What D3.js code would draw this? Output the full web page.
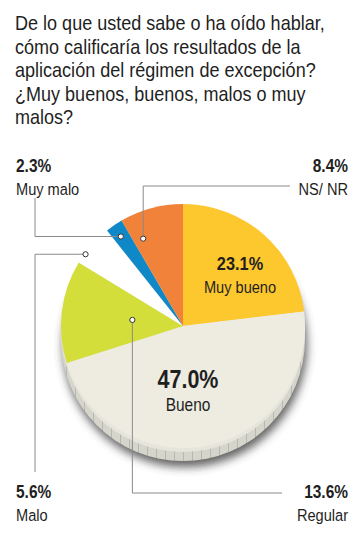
<!DOCTYPE html>
<html>
<head>
<meta charset="utf-8">
<script src="https://cdn.jsdelivr.net/npm/d3@7"></script>
<style>
  body { margin: 0; background: #fff; }
  svg text { font-family: "Liberation Sans", Arimo, sans-serif; fill: #1f1f1f; }
</style>
</head>
<body>
<div id="chart"></div>
<script>
var width = 364;
var height = 542;

var title = [
    "De lo que usted sabe o ha oído hablar,",
    "cómo calificaría los resultados de la",
    "aplicación del régimen de excepción?",
    "¿Muy buenos, buenos, malos o muy",
    "malos?"
];
var categories = ["Muy bueno", "Bueno", "Regular", "Malo", "Muy malo", "NS/ NR"];
var values = [23.1, 47.0, 13.6, 5.6, 2.3, 8.4];
var colors = ["#fdc72e", "#eeece1", "#d3de3a", "#ffffff", "#0f88c8", "#f0823a"];

var cx = 183, cy = 326, radius = 122, depth = 13;

var svg = d3.select('#chart')
    .append('svg')
    .attr('width', width)
    .attr('height', height);

// condensed look: squeeze text horizontally so the first title line spans ~310px
var probe = svg.append('text').style('font-size', '21px').text(title[0]);
var squeeze = 310 / probe.node().getComputedTextLength();
probe.remove();

function label(parent, x, y, str, size, bold, anchor) {
    return parent.append('text')
        .attr('transform', 'translate(' + x + ',' + y + ') scale(' + squeeze + ',1)')
        .attr('text-anchor', anchor || 'start')
        .style('font-size', size + 'px')
        .style('font-weight', bold ? 'bold' : 'normal')
        .text(str);
}

var defs = svg.append('defs');
defs.append('filter')
    .attr('id', 'blur')
    .attr('x', '-20%').attr('y', '-20%').attr('width', '140%').attr('height', '140%')
    .append('feGaussianBlur')
    .attr('stdDeviation', 5);
var stripes = defs.append('pattern')
    .attr('id', 'stripes')
    .attr('patternUnits', 'userSpaceOnUse')
    .attr('width', 9).attr('height', 40);
stripes.append('rect').attr('width', 9).attr('height', 40).attr('fill', '#d6d5cc');
stripes.append('rect').attr('width', 1).attr('height', 40).attr('fill', '#b9b8ae');

// title
var titleG = svg.append('g');
title.forEach(function(t, i) {
    label(titleG, 15, 30 + i * 23.5, t, 21, false);
});

var pie = d3.pie().sort(null).value(function(d) { return d; });
var slices = pie(values);
var arc = d3.arc().innerRadius(0).outerRadius(radius);

var chart = svg.append('g')
    .attr('transform', 'translate(' + cx + ',' + cy + ')');

// shadow + side of the disc
chart.append('circle')
    .attr('cx', 2).attr('cy', depth + 6)
    .attr('r', radius)
    .attr('fill', '#3a3a3a')
    .attr('opacity', 0.8)
    .attr('filter', 'url(#blur)');
chart.append('circle')
    .attr('cx', 0).attr('cy', depth)
    .attr('r', radius)
    .attr('fill', 'url(#stripes)');
chart.append('circle')
    .attr('cx', 0).attr('cy', depth * 0.3)
    .attr('r', radius)
    .attr('fill', '#e6e5dc');

chart.selectAll('path.slice')
    .data(slices)
    .enter()
    .append('path')
    .attr('class', 'slice')
    .attr('d', arc)
    .attr('fill', function(d, i) { return colors[i]; });

// labels inside the pie
var inside = [
    { i: 0, x: 57, y: -56, pct: 19, name: 17 },
    { i: 1, x: 5, y: 62, pct: 25, name: 18 }
];
inside.forEach(function(l) {
    label(chart, l.x, l.y, values[l.i].toFixed(1) + '%', l.pct, true, 'middle');
    label(chart, l.x, l.y + 23, categories[l.i], l.name, false, 'middle');
});

// outside labels with leader lines
var outside = [
    { i: 4, t: 0.45, r: 109, lx: 16, ly: 172, anchor: 'start', route: function(p) { return [[p[0], p[1]], [35 - cx, p[1]], [35 - cx, 198 - cy]]; } },
    { i: 5, t: 0.19, r: 96, lx: 348, ly: 172, anchor: 'end', route: function(p) { return [[p[0], p[1]], [p[0], 186 - cy], [290 - cx, 186 - cy]]; } },
    { i: 3, t: 0.25, r: 121, lx: 16, ly: 498, anchor: 'start', route: function(p) { return [[p[0], p[1]], [35 - cx, p[1]], [35 - cx, 472 - cy]]; } },
    { i: 2, t: 0.5, r: 51, lx: 348, ly: 498, anchor: 'end', route: function(p) { return [[p[0], p[1]], [p[0], 493 - cy], [282 - cx, 493 - cy]]; } }
];

var line = d3.line();
outside.forEach(function(l) {
    var s = slices[l.i];
    var p = d3.pointRadial(s.startAngle + l.t * (s.endAngle - s.startAngle), l.r);
    chart.append('path')
        .attr('d', line(l.route(p)))
        .attr('fill', 'none')
        .attr('stroke', '#8a8a8a')
        .attr('stroke-width', 1);
    chart.append('circle')
        .attr('cx', p[0]).attr('cy', p[1])
        .attr('r', 2.6)
        .attr('fill', '#fff')
        .attr('stroke', '#333')
        .attr('stroke-width', 1);
    label(svg, l.lx, l.ly, values[l.i].toFixed(1) + '%', 18, true, l.anchor);
    label(svg, l.lx, l.ly + 23, categories[l.i], 17, false, l.anchor);
});
</script>
</body>
</html>
